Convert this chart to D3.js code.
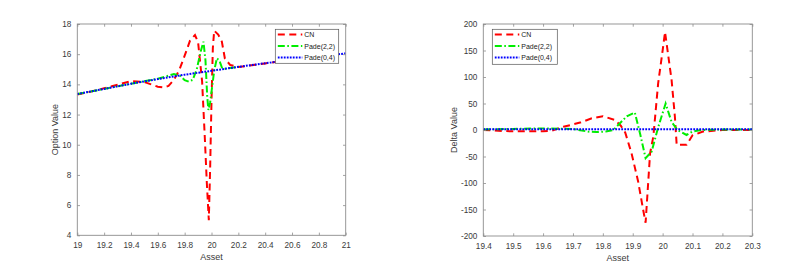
<!DOCTYPE html>
<html><head><meta charset="utf-8">
<script src="https://cdn.jsdelivr.net/npm/d3@7"></script>
<style>body{margin:0;background:#fff}svg{display:block}</style>
</head><body>
<svg id="c" width="807" height="270"></svg>
<script>
// ---------- data ----------
const seriesNames = ["CN", "Pade(2,2)", "Pade(0,4)"];

// Left panel: option value
const leftXTicks = [19, 19.2, 19.4, 19.6, 19.8, 20, 20.2, 20.4, 20.6, 20.8, 21];
const leftYTicks = [4, 6, 8, 10, 12, 14, 16, 18];
const leftBlueX = [19.0, 19.1, 19.2, 19.3, 19.4, 19.5, 19.6, 19.7, 19.8, 19.9, 20.0, 20.1, 20.2, 20.3, 20.4, 20.5, 20.6, 20.7, 20.8, 20.9, 21.0];
const leftBlueY = [13.36, 13.53, 13.70, 13.87, 14.04, 14.2, 14.35, 14.5, 14.64, 14.77, 14.9, 15.03, 15.16, 15.28, 15.4, 15.52, 15.63, 15.74, 15.85, 15.95, 16.05];
const leftRedX = [19.0, 19.1, 19.2, 19.3, 19.4, 19.5, 19.55, 19.6, 19.64, 19.68, 19.72, 19.76, 19.8, 19.84, 19.877, 19.9, 19.93, 19.95, 19.965, 19.98, 19.99, 20.0, 20.01, 20.02, 20.05, 20.077, 20.1, 20.14, 20.2, 20.3, 20.4, 20.5];
const leftRedY = [13.33, 13.52, 13.74, 13.98, 14.22, 14.15, 14.0, 13.84, 13.8, 13.9, 14.3, 14.95, 15.9, 16.9, 17.27, 16.8, 14.2, 10.5, 7.5, 5.0, 8.5, 12.9, 16.4, 17.56, 17.3, 16.83, 15.7, 15.28, 15.15, 15.27, 15.39, 15.51];
const leftGreenX = [19.0, 19.2, 19.4, 19.6, 19.65, 19.72, 19.77, 19.8, 19.83, 19.86, 19.89, 19.92, 19.94, 19.955, 19.968, 19.977, 19.99, 20.0, 20.02, 20.04, 20.06, 20.08, 20.1, 20.2];
const leftGreenY = [13.36, 13.70, 14.04, 14.37, 14.5, 14.69, 14.55, 14.28, 14.18, 14.3, 15.0, 16.2, 16.83, 15.6, 13.2, 12.3, 12.8, 13.5, 14.9, 15.73, 15.55, 15.05, 15.03, 15.16];

// Right panel: delta value
const rightXTicks = [19.4, 19.5, 19.6, 19.7, 19.8, 19.9, 20, 20.1, 20.2, 20.3];
const rightYTicks = [-200, -150, -100, -50, 0, 50, 100, 150, 200];
const rightBlueX = [19.4, 19.6, 19.8, 20.0, 20.2, 20.3];
const rightBlueY = [1.5, 1.5, 1.5, 1.5, 1.5, 1.5];
const rightRedX = [19.4, 19.45, 19.5, 19.55, 19.6, 19.63, 19.668, 19.724, 19.763, 19.80, 19.84, 19.86, 19.875, 19.896, 19.918, 19.935, 19.943, 19.958, 19.969, 19.985, 20.0, 20.008, 20.03, 20.041, 20.047, 20.08, 20.1, 20.135, 20.2, 20.3];
const rightRedY = [0, -1.5, -2.5, -2.5, -2.5, -1, 6, 14, 22, 26, 19, 8, -5, -44, -97, -151, -175, -44, -12, 88, 150, 185, 94, 25, -28, -28, -10, -3, 0, 0];
const rightGreenX = [19.4, 19.5, 19.6, 19.7, 19.75, 19.779, 19.81, 19.835, 19.868, 19.88, 19.907, 19.925, 19.943, 19.963, 19.985, 20.01, 20.03, 20.05, 20.08, 20.1, 20.13, 20.2, 20.3];
const rightGreenY = [1, 2, 3, 2, -3, -4, -3, 0, 19, 26, 33, -8, -53, -41, 5, 50, 15, 0, -9.4, -3, 0, 1, 1];

// ---------- drawing ----------
const svg = d3.select("#c");
const FONT = "'Liberation Sans', Arial, Helvetica, sans-serif";
const colors = ["#ff0000", "#00ee00", "#0000ff"];
const dashes = ["7,4.5", "7,2.5,1.6,2.5", "1.8,1.2"];
const fmt = d => String(+d.toFixed(1));

function panel(cfg) {
  const x = d3.scaleLinear().domain(cfg.xDomain).range([cfg.x0, cfg.x1]);
  const y = d3.scaleLinear().domain(cfg.yDomain).range([cfg.y1, cfg.y0]);
  const g = svg.append("g");
  g.append("rect").attr("x", cfg.x0).attr("y", cfg.y0)
    .attr("width", cfg.x1 - cfg.x0).attr("height", cfg.y1 - cfg.y0).attr("fill", "#fff");

  const clipId = "clip" + cfg.id;
  svg.append("clipPath").attr("id", clipId).append("rect")
    .attr("x", cfg.x0).attr("y", cfg.y0).attr("width", cfg.x1 - cfg.x0).attr("height", cfg.y1 - cfg.y0);

  const line = d3.line().x(d => x(d[0])).y(d => y(d[1]));
  const lines = g.append("g").attr("clip-path", `url(#${clipId})`);
  cfg.series.forEach((s, i) => {
    lines.append("path").datum(d3.zip(s[0], s[1]))
      .attr("d", line).attr("fill", "none").attr("stroke", colors[i])
      .attr("stroke-width", 2).attr("stroke-dasharray", dashes[i]);
  });

  // axes with inward ticks
  const tk = 2.7;
  const axStyle = a => {
    a.select(".domain").remove();
    a.selectAll("line").attr("stroke", "#8c8c8c").attr("stroke-width", 0.8);
    a.selectAll("text").attr("fill", "#3a3a3a").attr("font-family", FONT).attr("font-size", "8.2px");
  };
  g.append("g").attr("transform", `translate(0,${cfg.y1})`)
    .call(d3.axisBottom(x).tickValues(cfg.xTicks).tickFormat(fmt).tickSizeInner(-tk).tickSizeOuter(0).tickPadding(7))
    .call(axStyle);
  g.append("g").attr("transform", `translate(0,${cfg.y0})`)
    .call(d3.axisTop(x).tickValues(cfg.xTicks).tickFormat("").tickSizeInner(-tk).tickSizeOuter(0))
    .call(axStyle);
  g.append("g").attr("transform", `translate(${cfg.x0},0)`)
    .call(d3.axisLeft(y).tickValues(cfg.yTicks).tickFormat(fmt).tickSizeInner(-tk).tickSizeOuter(0).tickPadding(6))
    .call(axStyle);
  g.append("g").attr("transform", `translate(${cfg.x1},0)`)
    .call(d3.axisRight(y).tickValues(cfg.yTicks).tickFormat("").tickSizeInner(-tk).tickSizeOuter(0))
    .call(axStyle);
  g.append("rect").attr("x", cfg.x0).attr("y", cfg.y0)
    .attr("width", cfg.x1 - cfg.x0).attr("height", cfg.y1 - cfg.y0)
    .attr("fill", "none").attr("stroke", "#8c8c8c").attr("stroke-width", 0.9);

  // labels
  g.append("text").attr("x", (cfg.x0 + cfg.x1) / 2).attr("y", cfg.y1 + 25)
    .attr("text-anchor", "middle").attr("font-family", FONT).attr("font-size", "9px")
    .attr("fill", "#3a3a3a").text("Asset");
  g.append("text").attr("transform", `translate(${cfg.ylx},${(cfg.y0 + cfg.y1) / 2}) rotate(-90)`)
    .attr("text-anchor", "middle").attr("font-family", FONT).attr("font-size", "9px")
    .attr("fill", "#3a3a3a").text(cfg.yLabel);

  // legend
  const L = cfg.legend;
  const lg = g.append("g");
  lg.append("rect").attr("x", L.x).attr("y", L.y).attr("width", L.w).attr("height", L.h)
    .attr("fill", "#fff").attr("stroke", "#555").attr("stroke-width", 0.7);
  seriesNames.forEach((n, i) => {
    const yy = L.y + 5.2 + i * 11.5;
    lg.append("line").attr("x1", L.x + 2.5).attr("x2", L.x + 27).attr("y1", yy).attr("y2", yy)
      .attr("stroke", colors[i]).attr("stroke-width", 2).attr("stroke-dasharray", dashes[i]);
    lg.append("text").attr("x", L.x + 29).attr("y", yy + 2.5)
      .attr("font-family", FONT).attr("font-size", "7px").attr("fill", "#222").text(n);
  });
}

panel({
  id: "L", x0: 77.3, x1: 345.7, y0: 24, y1: 235.3,
  xDomain: [19, 21], yDomain: [4, 18], xTicks: leftXTicks, yTicks: leftYTicks,
  yLabel: "Option Value", ylx: 58,
  series: [[leftRedX, leftRedY], [leftGreenX, leftGreenY], [leftBlueX, leftBlueY]],
  legend: { x: 275.3, y: 29.3, w: 63.4, h: 34 }
});
panel({
  id: "R", x0: 483.3, x1: 752.3, y0: 24, y1: 236,
  xDomain: [19.4, 20.3], yDomain: [-200, 200], xTicks: rightXTicks, yTicks: rightYTicks,
  yLabel: "Delta Value", ylx: 457,
  series: [[rightRedX, rightRedY], [rightGreenX, rightGreenY], [rightBlueX, rightBlueY]],
  legend: { x: 492.3, y: 29.3, w: 65, h: 35 }
});
</script>
</body></html>
